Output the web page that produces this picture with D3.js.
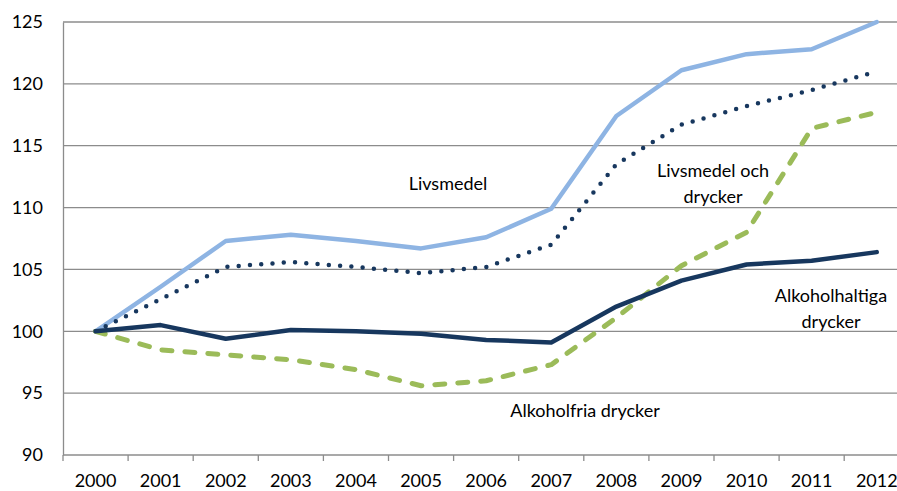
<!DOCTYPE html>
<html lang="sv">
<head>
<meta charset="UTF-8">
<title>Prisindex livsmedel och drycker</title>
<script src="https://d3js.org/d3.v7.min.js"></script>
<style>
  body { margin: 0; background: #fff; }
  svg text { font-family: Lato, "Open Sans", sans-serif; fill: #000; }
  .tick text { font-size: 18px; }
  .lbl { font-size: 18px; text-anchor: middle; }
</style>
</head>
<body>
<div id="chart"></div>
<script>
const years = ["2000","2001","2002","2003","2004","2005","2006","2007","2008","2009","2010","2011","2012"];
const livsmedel = [100, 103.6, 107.3, 107.8, 107.3, 106.7, 107.6, 109.9, 117.4, 121.1, 122.4, 122.8, 125.0];
const livsmedelDrycker = [100, 102.6, 105.2, 105.6, 105.2, 104.7, 105.2, 107.0, 113.5, 116.7, 118.2, 119.5, 121.0];
const alkoholhaltiga = [100, 100.5, 99.4, 100.1, 100.0, 99.8, 99.3, 99.1, 102.0, 104.1, 105.4, 105.7, 106.4];
const alkoholfria = [100, 98.5, 98.1, 97.7, 96.9, 95.6, 96.0, 97.3, 101.1, 105.3, 108.0, 116.4, 117.7];
const yTicks = [90, 95, 100, 105, 110, 115, 120, 125];

const W = 897, H = 491;
const margin = { top: 22, left: 63 };
const plotW = 13 * 65.1, plotH = 433;

const svg = d3.select("#chart").append("svg")
  .attr("width", W).attr("height", H);
const g = svg.append("g").attr("transform", `translate(${margin.left},${margin.top})`);

const x = d3.scaleBand().domain(years).range([0, plotW]);
const y = d3.scaleLinear().domain([90, 125]).range([plotH, 0]);

// gridlines
g.selectAll(".grid").data(yTicks).enter().append("line")
  .attr("x1", 0).attr("x2", plotW)
  .attr("y1", d => y(d)).attr("y2", d => y(d))
  .attr("stroke", "#8c8c8c").attr("stroke-width", 1.3);

// y axis
const yAxis = g.append("g").call(d3.axisLeft(y).tickValues(yTicks).tickSize(0).tickPadding(20));
yAxis.select(".domain").attr("stroke", "#8c8c8c").attr("stroke-width", 1.3);

// x axis with tick marks between categories
const xAxis = g.append("g").attr("transform", `translate(0,${plotH})`)
  .call(d3.axisBottom(x).tickSize(0).tickPadding(19));
xAxis.select(".domain").remove();
g.append("g").attr("transform", `translate(0,${plotH})`)
  .selectAll("line").data(years).enter().append("line")
  .attr("x1", d => x(d)).attr("x2", d => x(d))
  .attr("y1", 0).attr("y2", 6)
  .attr("stroke", "#8c8c8c").attr("stroke-width", 1.3);

const line = d3.line()
  .x((d, i) => x(years[i]) + x.bandwidth() / 2)
  .y(d => y(d));

const series = [
  { data: livsmedel, color: "#8eb4e3", width: 4.5, dash: null, cap: "round" },
  { data: livsmedelDrycker, color: "#17375e", width: 4.5, dash: "0 11.3", cap: "round" },
  { data: alkoholfria, color: "#9bbb59", width: 5, dash: "10 13", cap: "round" },
  { data: alkoholhaltiga, color: "#17375e", width: 4.5, dash: null, cap: "round" }
];

series.forEach(s => {
  g.append("path")
    .datum(s.data)
    .attr("d", line)
    .attr("fill", "none")
    .attr("stroke", s.color)
    .attr("stroke-width", s.width)
    .attr("stroke-linejoin", "round")
    .attr("stroke-linecap", s.cap)
    .attr("stroke-dasharray", s.dash);
});

// labels
const labels = [
  { t: "Livsmedel", x: 448, y: 190 },
  { t: "Livsmedel och", x: 713, y: 177 },
  { t: "drycker", x: 713, y: 203 },
  { t: "Alkoholhaltiga", x: 831, y: 302 },
  { t: "drycker", x: 831, y: 328 },
  { t: "Alkoholfria drycker", x: 585, y: 417 }
];
svg.selectAll(".lbl").data(labels).enter().append("text")
  .attr("class", "lbl")
  .attr("x", d => d.x).attr("y", d => d.y)
  .text(d => d.t);
</script>
</body>
</html>
